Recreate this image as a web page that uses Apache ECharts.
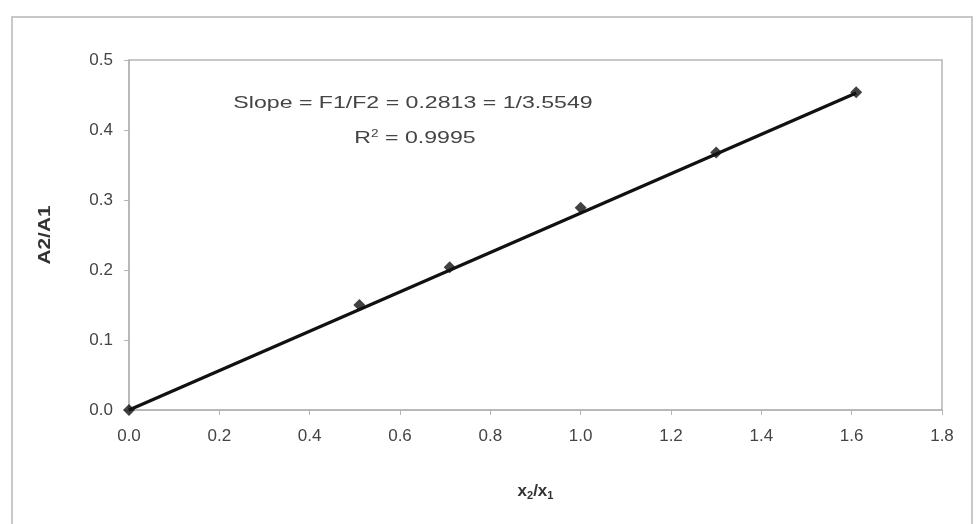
<!DOCTYPE html>
<html>
<head>
<meta charset="utf-8">
<script src="https://cdn.jsdelivr.net/npm/echarts@6/dist/echarts.min.js"></script>
<style>html,body{margin:0;padding:0;background:#fff}#c{width:977px;height:524px}</style>
</head>
<body>
<div id="c"></div>
<script>
var xValues = [0, 0.51, 0.71, 1.0, 1.3, 1.61];
var yValues = [0, 0.150, 0.204, 0.289, 0.368, 0.454];
var trendX = [0, 1.61];
var trendY = [0, 0.4529];
var xTicks = ['0.0','0.2','0.4','0.6','0.8','1.0','1.2','1.4','1.6','1.8'];
var yTicks = ['0.0','0.1','0.2','0.3','0.4','0.5'];
var annotation1 = 'Slope = F1/F2 = 0.2813 = 1/3.5549';
var annotation2 = 'R{sup|2} = 0.9995';
var yTitle = 'A2/A1';

var points = xValues.map(function(x,i){return [x, yValues[i]];});
var trend = trendX.map(function(x,i){return [x, trendY[i]];});
var font = 'Liberation Sans, Arial, sans-serif';
var chart = echarts.init(document.getElementById('c'));
chart.setOption({
  animation: false,
  backgroundColor: '#fff',
  grid: {left: 129, right: 35, top: 60, bottom: 114, show: true, borderColor: '#b5b5b5', borderWidth: 1.5},
  xAxis: {
    type: 'value', min: 0, max: 1.8, interval: 0.2,
    axisLine: {show: true, lineStyle: {color: '#b5b5b5', width: 1.5}},
    axisTick: {show: true, length: 5, lineStyle: {color: '#b5b5b5'}},
    splitLine: {show: false},
    axisLabel: {color: '#444', fontSize: 17, fontFamily: font, margin: 18,
      formatter: function(v){ return xTicks[Math.round(v/0.2)]; }},
    name: 'x{sub|2}/x{sub|1}', nameLocation: 'middle', nameGap: 72,
    nameTextStyle: {color: '#333', fontSize: 17, fontWeight: 'bold', fontFamily: font,
      rich: {sub: {fontSize: 11, fontWeight: 'bold', verticalAlign: 'bottom', padding: [8,0,0,0], color: '#333', fontFamily: font}}}
  },
  yAxis: {
    type: 'value', min: 0, max: 0.5, interval: 0.1,
    axisLine: {show: true, lineStyle: {color: '#b5b5b5', width: 1.5}},
    axisTick: {show: true, length: 5, lineStyle: {color: '#b5b5b5'}},
    splitLine: {show: false},
    axisLabel: {color: '#444', fontSize: 17, fontFamily: font, margin: 16,
      formatter: function(v){ return yTicks[Math.round(v/0.1)]; }}
  },
  graphic: [
    {type: 'rect', shape: {x: 12, y: 17, width: 960, height: 520}, style: {fill: 'none', stroke: '#c8c8c8', lineWidth: 2}, z: -1},
    {type: 'text', x: 46, y: 235, rotation: Math.PI/2, scaleX: 1.3,
      style: {text: yTitle, fill: '#333', fontSize: 16, fontWeight: 'bold', fontFamily: font, textAlign: 'center', textVerticalAlign: 'middle'}},
    {type: 'text', x: 413, y: 103, scaleX: 1.36,
      style: {text: annotation1, fill: '#444', fontSize: 17, fontFamily: font, textAlign: 'center', textVerticalAlign: 'middle'}},
    {type: 'text', x: 415, y: 138, scaleX: 1.36,
      style: {text: annotation2, fill: '#444', fontSize: 17, fontFamily: font, textAlign: 'center', textVerticalAlign: 'middle',
      rich: {sup: {fontSize: 10, verticalAlign: 'top', padding: [0,0,8,0], fill: '#444', fontFamily: font}}}}
  ],
  series: [
    {type: 'line', data: trend, symbol: 'none', lineStyle: {color: '#111', width: 3.2}, z: 2},
    {type: 'scatter', data: points, symbol: 'diamond', symbolSize: 12, itemStyle: {color: '#111'}, z: 3}
  ]
});
</script>
</body>
</html>
